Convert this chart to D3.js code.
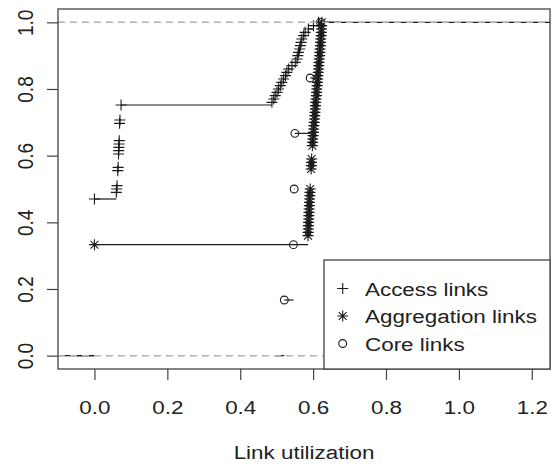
<!DOCTYPE html>
<html>
<head>
<meta charset="utf-8">
<script src="https://cdnjs.cloudflare.com/ajax/libs/d3/7.8.5/d3.min.js"></script>
<style>
body { margin: 0; background: #fff; }
text { font-family: "Liberation Sans", Arial, sans-serif; fill: #222; font-size: 19px; }
</style>
</head>
<body>
<svg id="chart" width="556" height="464"></svg>
<script>
// ECDF jump points (knot x, cumulative fraction)
var accessX = [0, 0.060, 0.061, 0.062, 0.064, 0.065, 0.066, 0.0665, 0.067, 0.0675, 0.068, 0.069, 0.070, 0.073,
    0.487, 0.492, 0.496, 0.501, 0.505, 0.510, 0.514, 0.519, 0.524, 0.528, 0.533, 0.542, 0.551,
    0.556, 0.558, 0.560, 0.563, 0.565, 0.567, 0.569, 0.574, 0.578, 0.587, 0.601, 0.615];
var accessF = [0.47, 0.49, 0.50, 0.51, 0.555, 0.565, 0.605, 0.615, 0.625, 0.635, 0.645, 0.697, 0.707, 0.752,
    0.76, 0.77, 0.78, 0.79, 0.80, 0.81, 0.82, 0.83, 0.84, 0.85, 0.86, 0.87, 0.88,
    0.89, 0.90, 0.91, 0.92, 0.93, 0.94, 0.95, 0.96, 0.97, 0.98, 0.99, 1.00];

var aggregationX = [0,
    0.586, 0.5864, 0.5868, 0.5872, 0.5876, 0.588, 0.5884, 0.5888, 0.5892, 0.5896, 0.590, 0.5905, 0.591, 0.5915, 0.592,
    0.5945, 0.595, 0.5955, 0.596,
    0.598, 0.5985, 0.599, 0.600, 0.601, 0.6015, 0.602, 0.603, 0.604, 0.6045,
    0.605, 0.606, 0.6065, 0.607, 0.608, 0.609, 0.6095, 0.610, 0.611, 0.612,
    0.6125, 0.613, 0.614, 0.615, 0.6155, 0.616, 0.617, 0.618, 0.6185, 0.619,
    0.620, 0.6205, 0.621, 0.622, 0.6225, 0.623, 0.6235, 0.624];
var aggregationF = [0.333,
    0.36, 0.37, 0.38, 0.39, 0.40, 0.41, 0.42, 0.43, 0.44, 0.45, 0.46, 0.47, 0.48, 0.49, 0.50,
    0.56, 0.57, 0.58, 0.59,
    0.63, 0.64, 0.65, 0.66, 0.67, 0.68, 0.69, 0.70, 0.71, 0.72,
    0.73, 0.74, 0.75, 0.76, 0.77, 0.78, 0.79, 0.80, 0.81, 0.82,
    0.83, 0.84, 0.85, 0.86, 0.87, 0.88, 0.89, 0.90, 0.91, 0.92,
    0.93, 0.94, 0.95, 0.96, 0.97, 0.98, 0.99, 1.00];

var coreX = [0.521, 0.546, 0.548, 0.550, 0.592, 0.620];
var coreF = [0.167, 0.333, 0.500, 0.667, 0.833, 1.000];

var xTicks = [0, 0.2, 0.4, 0.6, 0.8, 1.0, 1.2];
var yTicks = [0, 0.2, 0.4, 0.6, 0.8, 1.0];
var legendLabels = ["Access links", "Aggregation links", "Core links"];
var legendShapes = ["plus", "star", "circle"];
var xLabel = "Link utilization";

// layout
var box = {left: 58, right: 550, top: 9, bottom: 369};
var R = 3.9;        // symbol radius
var stretch = 1.18; // the text in the picture runs wide
var ink = "#1a1a1a";

var svg = d3.select("#chart");

var x = d3.scaleLinear().domain([-0.1, 1.25]).range([box.left, box.right]);
var y = d3.scaleLinear().domain([-0.04, 1.04]).range([box.bottom, box.top]);

svg.append("defs").append("clipPath").attr("id", "plotClip")
    .append("rect")
    .attr("x", box.left).attr("y", box.top)
    .attr("width", box.right - box.left).attr("height", box.bottom - box.top);

var plot = svg.append("g").attr("clip-path", "url(#plotClip)");

function wideText(parent, tx, ty, str, anchor, rotate) {
    return parent.append("text")
        .attr("transform", "translate(" + tx + "," + ty + ") scale(" + stretch + ",1)" + (rotate ? " rotate(-90)" : ""))
        .attr("text-anchor", anchor)
        .text(str);
}

function symbolPath(shape) {
    var p = R * Math.SQRT2;
    if (shape == "plus") return "M" + (-p) + ",0H" + p + "M0," + (-p) + "V" + p;
    if (shape == "star") return "M" + (-p) + ",0H" + p + "M0," + (-p) + "V" + p +
        "M" + (-R) + "," + (-R) + "L" + R + "," + R + "M" + (-R) + "," + R + "L" + R + "," + (-R);
    return null;
}

function drawSymbol(g, shape, px, py) {
    if (shape == "circle") {
        g.append("circle").attr("cx", px).attr("cy", py).attr("r", R)
            .attr("fill", "none").attr("stroke", ink).attr("stroke-width", 1.1);
    } else {
        g.append("path").attr("transform", "translate(" + px + "," + py + ")")
            .attr("d", symbolPath(shape))
            .attr("fill", "none").attr("stroke", ink).attr("stroke-width", 1.1);
    }
}

// like R's plot.ecdf: horizontal steps, points at knots, dashed lines at 0 and 1
function drawEcdf(xs, fs, shape, first) {
    var n = xs.length;
    var dr;
    if (first) {
        dr = 1.35; // xlim given, so the outer steps run past the box
    } else {
        var diffs = [];
        for (var i = 1; i < n; i++) diffs.push(xs[i] - xs[i - 1]);
        dr = Math.max(0.08 * (xs[n - 1] - xs[0]), d3.median(diffs));
    }
    var ti = [xs[0] - dr].concat(xs, [xs[n - 1] + dr]);
    var levels = [0].concat(fs);

    var g = plot.append("g");
    var segs = [];
    for (var j = 0; j < levels.length; j++) {
        segs.push({x1: ti[j], x2: ti[j + 1], f: levels[j]});
    }
    g.selectAll("line.step").data(segs).enter().append("line")
        .attr("class", "step")
        .attr("x1", function(d) { return x(d.x1); })
        .attr("x2", function(d) { return x(d.x2); })
        .attr("y1", function(d) { return y(d.f); })
        .attr("y2", function(d) { return y(d.f); })
        .attr("stroke", ink).attr("stroke-width", 1.2);

    for (var k = 0; k < n; k++) drawSymbol(g, shape, x(xs[k]), y(fs[k]));

    g.selectAll("line.ref").data([0, 1]).enter().append("line")
        .attr("class", "ref")
        .attr("x1", box.left).attr("x2", box.right)
        .attr("y1", function(d) { return y(d); })
        .attr("y2", function(d) { return y(d); })
        .attr("stroke", "#b3b3b3").attr("stroke-width", 1.2)
        .attr("stroke-dasharray", "7,5");
}

drawEcdf(accessX, accessF, "plus", true);
drawEcdf(aggregationX, aggregationF, "star", false);
drawEcdf(coreX, coreF, "circle", false);

// axes: d3 gives the ticks, labels are redrawn wide
var fmt = d3.format(".1f");

var xAxis = svg.append("g")
    .attr("transform", "translate(0," + box.bottom + ")")
    .call(d3.axisBottom(x).tickValues(xTicks).tickSize(11).tickFormat(""));
xAxis.select(".domain").remove();
xAxis.selectAll(".tick line").attr("stroke", "#444").attr("stroke-width", 1.2);
xAxis.selectAll(".tick").each(function(d) {
    wideText(d3.select(this), 0, 45, fmt(d), "middle", false);
});

var yAxis = svg.append("g")
    .attr("transform", "translate(" + box.left + ",0)")
    .call(d3.axisLeft(y).tickValues(yTicks).tickSize(11).tickFormat(""));
yAxis.select(".domain").remove();
yAxis.selectAll(".tick line").attr("stroke", "#444").attr("stroke-width", 1.2);
yAxis.selectAll(".tick").each(function(d) {
    wideText(d3.select(this), -25, 0, fmt(d), "middle", true);
});

wideText(svg, (box.left + box.right) / 2, 459, xLabel, "middle", false);

// plot box
svg.append("rect")
    .attr("x", box.left).attr("y", box.top)
    .attr("width", box.right - box.left).attr("height", box.bottom - box.top)
    .attr("fill", "none").attr("stroke", "#444").attr("stroke-width", 1.3);

// legend, bottom right
var legend = svg.append("g");
legend.append("rect")
    .attr("x", 324).attr("y", 260)
    .attr("width", box.right - 324).attr("height", box.bottom - 260)
    .attr("fill", "#fff").attr("stroke", "#444").attr("stroke-width", 1.3);
legendLabels.forEach(function(label, i) {
    var cy = 288.5 + i * 27.5;
    drawSymbol(legend, legendShapes[i], 342.7, cy);
    wideText(legend, 365, cy + 7, label, "start", false);
});
</script>
</body>
</html>
